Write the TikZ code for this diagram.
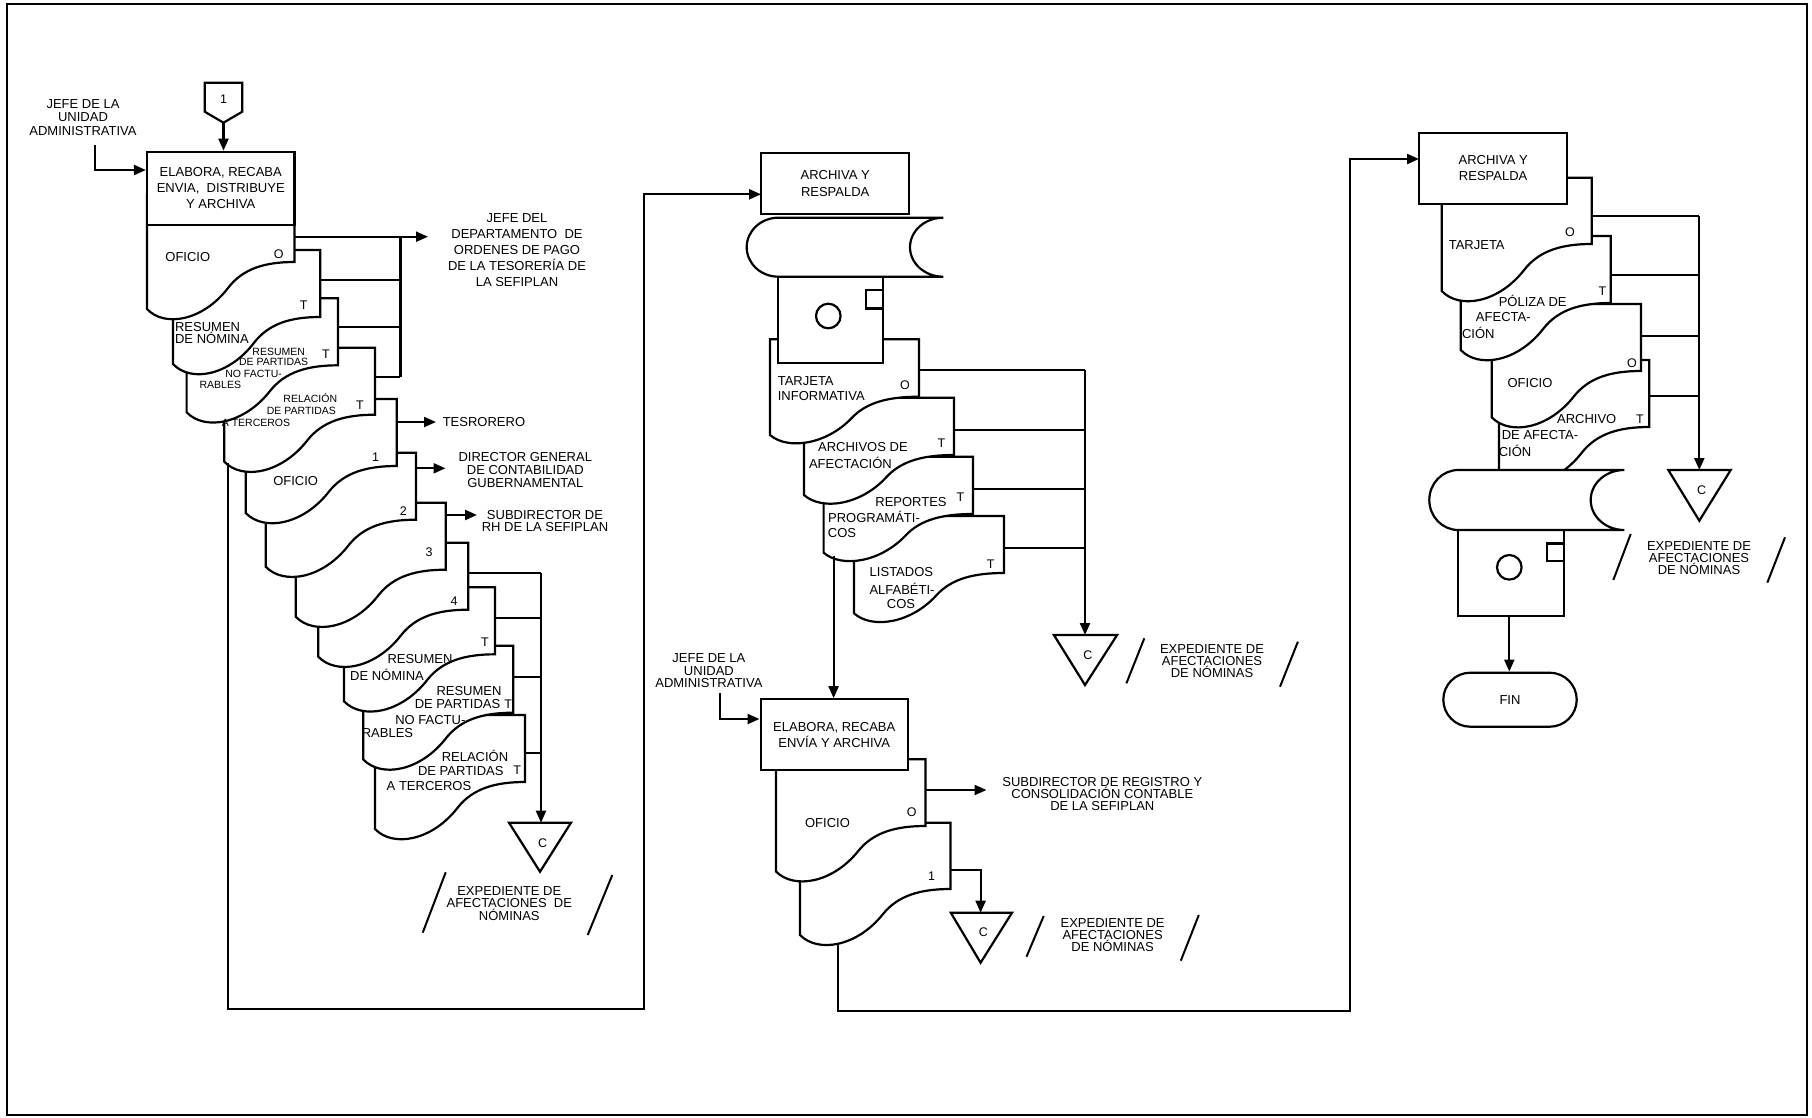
\documentclass[tikz,border=0pt]{standalone}
\usepackage{fontspec}
\setmainfont{Liberation Sans}
\usetikzlibrary{arrows.meta}
\newcommand\docshape[5]{%
  \pgfmathsetmacro\dkW{#3-#1}%
  \pgfmathsetmacro\dkA{#5-#4}%
  \filldraw[fill=white] (#1,#2) -- (#3,#2) -- (#3,#4)
    .. controls ({#1+0.8*\dkW},{#4}) and ({#1+0.65*\dkW},{#5-0.86*\dkA})
    .. ({#1+0.55*\dkW},{#5-0.45*\dkA})
    .. controls ({#1+0.38*\dkW},{#5+0.25*\dkA}) and ({#1+0.12*\dkW},{#5+0.4*\dkA})
    .. (#1,#5) -- cycle;}
\begin{document}
\begin{tikzpicture}[x=1pt,y=-1pt,line width=2.2pt,
  lbl/.style={inner sep=0pt,align=center,font=\fontsize{13}{12.5}\selectfont},
  small/.style={inner sep=0pt,align=center,font=\fontsize{10.5}{11}\selectfont},
  mk/.style={inner sep=0pt,font=\fontsize{12.5}{12.5}\selectfont},
  arr/.style={-{Triangle[length=12pt,width=10pt]}},
  boxst/.style={draw,fill=white,inner sep=0pt,align=center,font=\fontsize{13}{16}\selectfont},
  slash/.style={line width=2pt}]
\useasboundingbox (0,0) rectangle (1812,1117);
\draw[line width=1.8pt] (7.3,4) rectangle (1807.3,1115);

% ================= LEFT COLUMN =================
\node[lbl,font=\fontsize{13}{13.3}\selectfont] (jefeA) at (83,117.5) {JEFE DE LA\\UNIDAD\\ADMINISTRATIVA};
\draw (204.7,82.7) -- (242.3,82.7) -- (242.3,111.7) -- (223.5,122.7) -- (204.7,111.7) -- cycle;
\coordinate (pentA) at (223.5,122.7);
\node[mk] (pone) at (223.5,99) {1};

\docshape{375}{715}{525}{782}{829}
\docshape{363.3}{645.7}{513.3}{712.7}{759.5}
\docshape{344}{587.3}{495}{654.3}{701.3}
\docshape{318.3}{542.7}{468.3}{609.7}{656.7}
\docshape{295.7}{502.7}{445.7}{569.7}{616.7}
\docshape{265.7}{452.7}{416}{519.7}{566.7}
\docshape{245.7}{399}{396.7}{466}{513}
\docshape{224.3}{347.7}{375}{414.7}{461.7}
\docshape{186.6}{298.3}{338}{365.3}{412.3}
\docshape{173}{250}{320.2}{317}{364}
\docshape{147}{195}{294.5}{262}{309}
\node[boxst,minimum width=147.5pt,minimum height=73.3pt] (boxA) at (220.75,188.35) {ELABORA, RECABA\\ENVIA,~ DISTRIBUYE\\Y ARCHIVA};

\draw[arr] (pentA) -- (pentA |- boxA.north);
\coordinate (jA) at (95,145);
\draw[arr] (jA) |- (boxA.west |- 0,170);

\draw[arr] (294.5,236.7) -- (428,236.7);
\draw (400.4,236.7) -- (400.4,376.7);
\draw (320.2,280) -- (400.4,280);
\draw (338,326.7) -- (400.4,326.7);
\draw (375,376.7) -- (400.4,376.7);
\draw[arr] (396.7,422) -- (436,422);
\draw[arr] (416,468.3) -- (445.5,468.3);
\draw[arr] (445.7,515) -- (477,515);
\draw (468.3,572.7) -- (541,572.7);
\draw (495,617.7) -- (541,617.7);
\draw (514.3,676.7) -- (541,676.7);
\draw (525,753.3) -- (541,753.3);
\draw[arr] (541,572.7) -- (541,822.7);
\draw (509,822.7) -- (571,822.7) -- (540,871.7) -- cycle;
\node[mk] (cA) at (542.7,842.7) {C};
\draw[slash] (445.7,872.3) -- (422.7,932.7);
\draw[slash] (612.3,875) -- (587.7,935);
\node[lbl] (expA) at (509.3,903.5) {EXPEDIENTE DE\\AFECTACIONES~ DE\\NÓMINAS};

\node[lbl,font=\fontsize{13}{15.8}\selectfont] (jdep) at (517,250) {JEFE DEL\\DEPARTAMENTO~ DE\\ORDENES DE PAGO\\DE LA TESORERÍA DE\\LA SEFIPLAN};
\node[lbl,anchor=west] (tes) at (441.7,422) {TESRORERO};
\node[lbl,font=\fontsize{13}{12.7}\selectfont] (dir) at (525.3,470) {DIRECTOR GENERAL\\DE CONTABILIDAD\\GUBERNAMENTAL};
\node[lbl,font=\fontsize{13}{11.7}\selectfont] (subrh) at (545,520.8) {SUBDIRECTOR DE\\RH DE LA SEFIPLAN};

% texts in left docs
\node[lbl] (a1) at (187.8,257.3) {OFICIO};
\node[mk] (a1m) at (278.7,254) {O};
\node[inner sep=0pt,align=left,anchor=west,font=\fontsize{13}{10.6}\selectfont] (a2) at (174,333) {RESUMEN\\DE NÓMINA};
\node[mk] (a2m) at (303.6,305) {T};
\node[small] (a3a) at (278.7,351.7) {RESUMEN};
\node[small] (a3b) at (273.6,362.3) {DE PARTIDAS};
\node[small] (a3c) at (253.6,374) {NO FACTU-};
\node[small] (a3d) at (220.3,385) {RABLES};
\node[mk] (a3m) at (326,354) {T};
\node[small] (a4a) at (310.3,397.7) {RELACIÓN};
\node[small] (a4b) at (301.4,411) {DE PARTIDAS};
\node[small] (a4c) at (256,423.3) {A TERCEROS};
\node[mk] (a4m) at (360,405) {T};
\node[lbl] (a5) at (295.7,481) {OFICIO};
\node[mk] (a5m) at (375.7,456.7) {1};
\node[mk] (a6m) at (403.3,510.7) {2};
\node[mk] (a7m) at (429,552.3) {3};
\node[mk] (a8m) at (454,600.7) {4};
\node[lbl] (a9a) at (420,659.3) {RESUMEN};
\node[lbl] (a9b) at (387,675) {DE NÓMINA};
\node[mk] (a9m) at (485,641.7) {T};
\node[lbl] (a10a) at (469,690.7) {RESUMEN};
\node[lbl] (a10b) at (457.5,704) {DE PARTIDAS};
\node[mk] (a10m) at (508.3,704) {T};
\node[lbl] (a10c) at (430.3,720) {NO FACTU-};
\node[lbl] (a10d) at (387.5,732.7) {RABLES};
\node[lbl] (a11a) at (475,756) {RELACIÓN};
\node[lbl] (a11b) at (460.8,770.7) {DE PARTIDAS};
\node[mk] (a11m) at (517.3,770) {T};
\node[lbl] (a11c) at (429,785.7) {A TERCEROS};

% connector left -> middle
\draw[arr] (228.3,463) -- (228.3,1009) -- (644,1009) -- (644,194.3) -- (761,194.3);

% ================= MIDDLE COLUMN =================
\docshape{854}{516}{1004}{573}{613.3}
\docshape{823.6}{456.7}{973}{514}{552.7}
\docshape{804}{397.7}{954}{455}{495}
\docshape{770}{339.3}{919}{396.7}{435}
\filldraw[fill=white] (777.7,276.7) rectangle (883.3,362.7);
\draw (828.3,316) circle[radius=12.3pt];
\draw[line width=2.4pt] (883.3,290) -- (866,290) -- (866,308.3) -- (883.3,308.3);
\filldraw[fill=white] (778.3,217.7) -- (943.3,217.7) .. controls (924.9,217.7) and (910,230.9) .. (910,247.2) .. controls (910,263.5) and (924.9,276.7) .. (943.3,276.7) -- (778.3,276.7) .. controls (760.9,276.7) and (746.7,263.5) .. (746.7,247.2) .. controls (746.7,230.9) and (760.9,217.7) .. (778.3,217.7) -- cycle;
\node[boxst,font=\fontsize{13}{16.7}\selectfont,minimum width=148.3pt,minimum height=60.7pt] (boxB) at (835.2,183.65) {ARCHIVA Y\\RESPALDA};

\draw (919,370) -- (1085,370);
\draw (954,430) -- (1085,430);
\draw (973,489.3) -- (1085,489.3);
\draw (1004,547.7) -- (1085,547.7);
\draw[arr] (1085,370) -- (1085,635);
\draw (1053.9,635) -- (1117.1,635) -- (1085,685) -- cycle;
\node[mk] (cB) at (1087.9,655) {C};
\draw[slash] (1144.3,638.3) -- (1126.4,683.3);
\draw[slash] (1297.9,641.7) -- (1280,686.7);
\node[lbl,font=\fontsize{13}{12.3}\selectfont] (expB) at (1212,661.2) {EXPEDIENTE DE\\AFECTACIONES\\DE NÓMINAS};

\node[inner sep=0pt,align=left,anchor=west,font=\fontsize{13}{15.3}\selectfont] (b1) at (776.7,388.3) {TARJETA\\INFORMATIVA};
\node[mk] (b1m) at (905,385) {O};
\node[lbl] (b2a) at (862.9,447.3) {ARCHIVOS DE};
\node[lbl] (b2b) at (850.4,463.3) {AFECTACIÓN};
\node[mk] (b2m) at (941.4,443.3) {T};
\node[lbl] (b3a) at (911,501.7) {REPORTES};
\node[lbl] (b3b) at (874,516.7) {PROGRAMÁTI-};
\node[lbl] (b3c) at (842,533.3) {COS};
\node[mk] (b3m) at (960.4,497.3) {T};
\node[lbl] (b4a) at (901.4,571.7) {LISTADOS};
\node[lbl] (b4b) at (902,589.3) {ALFABÉTI-};
\node[lbl] (b4c) at (901,604.3) {COS};
\node[mk] (b4m) at (990.7,564) {T};

% lower middle
\docshape{800}{822.7}{950.5}{889}{935}
\docshape{776}{759.3}{925.5}{826}{871.5}
\node[boxst,minimum width=147.3pt,minimum height=70.7pt] (boxC) at (834.25,734.65) {ELABORA, RECABA\\ENVÍA Y ARCHIVA};
\draw[arr] (833.6,556) -- (boxC.north -| 833.6,0);
\node[lbl,font=\fontsize{13}{12.5}\selectfont] (jefeC) at (708.9,670.8) {JEFE DE LA\\UNIDAD\\ADMINISTRATIVA};
\coordinate (jC) at (719.6,693.3);
\draw[arr] (jC) |- (boxC.west |- 0,719);
\node[lbl] (c1) at (827.5,822.7) {OFICIO};
\node[mk] (c1m) at (911.7,812.3) {O};
\node[mk] (c2m) at (931.6,876) {1};
\draw[arr] (925.5,790) -- (986.5,790);
\node[lbl,font=\fontsize{13}{12.2}\selectfont] (subreg) at (1102.3,794) {SUBDIRECTOR DE REGISTRO Y\\CONSOLIDACIÓN CONTABLE\\DE LA SEFIPLAN};
\draw[arr] (950.5,870) -- (980.6,870) -- (980.6,912.7);
\draw (950.8,912.7) -- (1012,912.7) -- (980.6,962.7) -- cycle;
\node[mk] (cC) at (983.3,932.3) {C};
\draw[slash] (1043.7,916) -- (1026.5,956.7);
\draw[slash] (1198.8,915) -- (1180.8,960.7);
\node[lbl,font=\fontsize{13}{12.3}\selectfont] (expC) at (1112.6,935.2) {EXPEDIENTE DE\\AFECTACIONES\\DE NÓMINAS};

% connector middle -> right
\draw[arr] (837.9,944) -- (837.9,1011) -- (1350,1011) -- (1350,159) -- (1419,159);

% ================= RIGHT COLUMN =================
\docshape{1499}{360}{1649.3}{427}{474}
\docshape{1491.7}{304}{1641}{371}{417.3}
\docshape{1460.7}{236}{1610.7}{303}{350}
\docshape{1441.7}{177.7}{1591.7}{244}{291}
\node[boxst,minimum width=148.3pt,minimum height=71.6pt] (boxD) at (1493.15,168.5) {ARCHIVA Y\\RESPALDA};
\filldraw[fill=white] (1458.3,530) rectangle (1564,615.7);
\draw (1509.3,567.3) circle[radius=12.3pt];
\draw[line width=2.4pt] (1564,543.3) -- (1546.7,543.3) -- (1546.7,561) -- (1564,561);
\filldraw[fill=white] (1458.3,470) -- (1624.3,470) .. controls (1605.7,470) and (1590.7,483.4) .. (1590.7,500) .. controls (1590.7,516.6) and (1605.7,530) .. (1624.3,530) -- (1458.3,530) .. controls (1442.3,530) and (1429.3,516.6) .. (1429.3,500) .. controls (1429.3,483.4) and (1442.3,470) .. (1458.3,470) -- cycle;

\draw (1591.7,216) -- (1699.3,216);
\draw (1610.7,275) -- (1699.3,275);
\draw (1641,336) -- (1699.3,336);
\draw (1649.3,395.7) -- (1699.3,395.7);
\draw[arr] (1699.3,216) -- (1699.3,470);
\draw (1668.3,470) -- (1730.7,470) -- (1699.3,520.7) -- cycle;
\node[mk] (cD) at (1701.7,490) {C};
\draw[slash] (1630.7,534) -- (1613.3,580);
\draw[slash] (1785,537.3) -- (1767.3,582.7);
\node[lbl,font=\fontsize{13}{12}\selectfont] (expD) at (1699,558) {EXPEDIENTE DE\\AFECTACIONES\\DE NÓMINAS};

\node[draw,rounded corners=27pt,minimum width=133.4pt,minimum height=54pt,inner sep=0pt,font=\fontsize{13}{13}\selectfont] (fin) at (1510,699.7) {FIN};
\draw[arr] (1509.3,615.7) -- (fin.north -| 1509.3,0);

\node[lbl] (d1) at (1476.7,245) {TARJETA};
\node[mk] (d1m) at (1570,232.3) {O};
\node[lbl] (d2a) at (1532.7,301) {PÓLIZA DE};
\node[lbl] (d2b) at (1503.3,317.3) {AFECTA-};
\node[lbl] (d2c) at (1478.3,333.3) {CIÓN};
\node[mk] (d2m) at (1602.3,291) {T};
\node[lbl] (d3) at (1530,383.3) {OFICIO};
\node[mk] (d3m) at (1632,363.3) {O};
\node[lbl] (d4a) at (1586.7,419.3) {ARCHIVO};
\node[lbl] (d4b) at (1540,435) {DE AFECTA-};
\node[lbl] (d4c) at (1515,451) {CIÓN};
\node[mk] (d4m) at (1640,419.3) {T};
\end{tikzpicture}
\end{document}
